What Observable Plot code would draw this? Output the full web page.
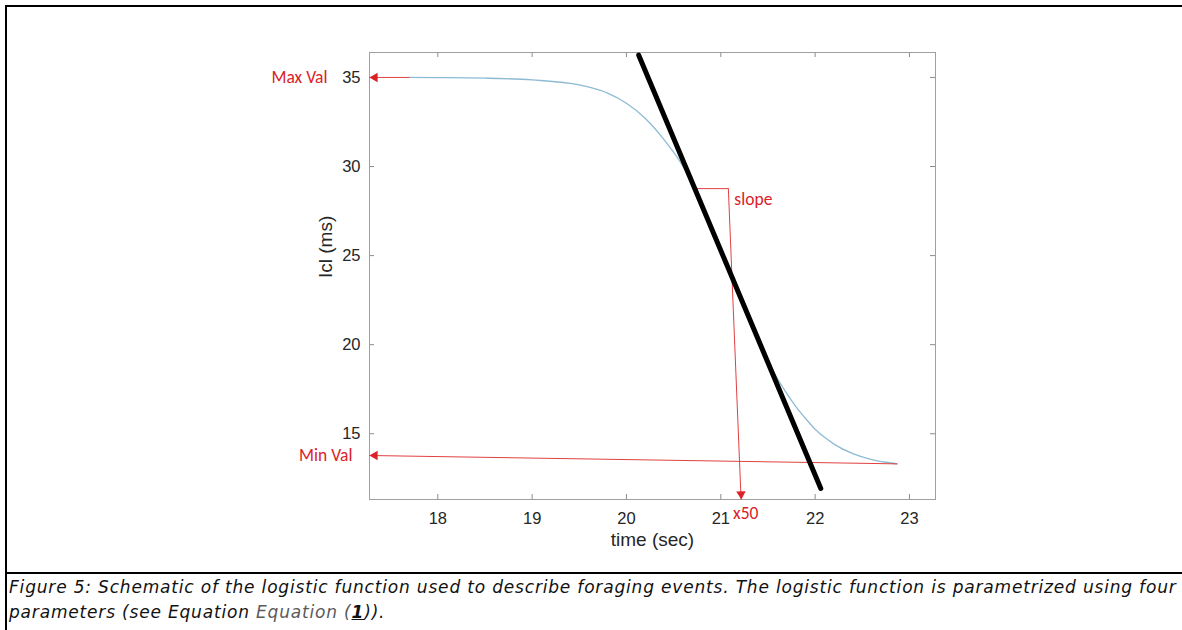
<!DOCTYPE html>
<html><head><meta charset="utf-8">
<script src="https://cdn.jsdelivr.net/npm/d3@7"></script>
<script src="https://cdn.jsdelivr.net/npm/@observablehq/plot@0.6"></script>
<style>
html,body{margin:0;padding:0;background:#fff;width:1182px;height:630px;overflow:hidden;position:relative;}
#chart{position:absolute;left:0;top:0;}
.bl{position:absolute;background:#000;}
#caption{position:absolute;left:9px;top:575px;font-family:"DejaVu Sans",Verdana,sans-serif;font-style:italic;font-size:17px;letter-spacing:0.82px;line-height:25px;color:#111;white-space:nowrap}
#caption .eq{color:#5a5a5a;}
</style></head><body>
<div id="chart"></div>
<div class="bl" style="left:5px;top:5px;width:1177px;height:2px"></div>
<div class="bl" style="left:5px;top:5px;width:2px;height:625px"></div>
<div class="bl" style="left:5px;top:572px;width:1177px;height:2px"></div>
<div id="caption">Figure 5: Schematic of the logistic function used to describe foraging events. The logistic function is parametrized using four<br>parameters (see Equation <span class="eq">Equation (</span><b><u>1</u></b>)).</div>
<script>
// ---- data ----
const xTicks = [18, 19, 20, 21, 22, 23];
const yTicks = [15, 20, 25, 30, 35];
const xDomain = [17.276, 23.276];
const yDomain = [11.31, 36.40];

// logistic curve
const curveTime = [17.7, 18.0, 18.5, 19.0, 19.5, 19.8, 20.0, 20.2, 20.4, 20.6, 20.8, 21.0, 21.2, 21.4, 21.5, 21.6, 21.7, 21.8, 21.9, 22.0, 22.1, 22.2, 22.4, 22.6, 22.75, 22.87];
const curveIcl  = [35.0, 34.99, 34.96, 34.86, 34.58, 34.12, 33.55, 32.7, 31.5, 30.0, 27.8, 25.3, 22.8, 20.3, 19.1, 18.1, 17.25, 16.5, 15.85, 15.25, 14.8, 14.42, 13.88, 13.55, 13.4, 13.31];

// tangent (slope) line
const slopeTime = [20.13, 22.06];
const slopeIcl  = [36.25, 11.93];

// annotation arrows: Max Val, Min Val, x50
const arrowFromX = [17.70, 22.87, 21.08];
const arrowFromY = [35.0, 13.31, 28.76];
const arrowToX   = [17.276, 17.276, 21.215];
const arrowToY   = [35.0, 13.78, 11.31];
// slope bracket horizontal segment
const bracketX = [20.72, 21.08];
const bracketY = [28.76, 28.76];

const labelMax = "Max Val", labelMin = "Min Val", labelSlope = "slope", labelX50 = "x50";
const xLabel = "time (sec)", yLabel = "Icl (ms)";

const W = 1182, H = 572, mT = 52, mB = 73, mL = 369, mR = 247;
const innerH = H - mT - mB, innerW = W - mL - mR;
const red = "#dc2128", redLine = "#e04040";
const gray = "#8c8c8c", ink = "#262626";
const labFont = "Carlito, Lato, 'Open Sans', sans-serif";

const curve = curveTime.map((t, i) => ({t, v: curveIcl[i]}));
const slope = slopeTime.map((t, i) => ({t, v: slopeIcl[i]}));
const arrows = arrowFromX.map((x1, i) => ({x1, y1: arrowFromY[i], x2: arrowToX[i], y2: arrowToY[i]}));

const plot = Plot.plot({
  width: W, height: H,
  marginTop: mT, marginBottom: mB, marginLeft: mL, marginRight: mR,
  style: {background: "transparent", fontFamily: "'Liberation Sans', Arial, sans-serif", fontSize: "16px", color: ink, overflow: "visible"},
  x: {domain: xDomain},
  y: {domain: yDomain},
  marks: [
    // inward ticks
    Plot.gridX(xTicks, {stroke: gray, strokeOpacity: 1, insetTop: innerH - 5}),
    Plot.gridX(xTicks, {stroke: gray, strokeOpacity: 1, insetBottom: innerH - 5}),
    Plot.gridY(yTicks, {stroke: gray, strokeOpacity: 1, insetRight: innerW - 5}),
    Plot.gridY(yTicks, {stroke: gray, strokeOpacity: 1, insetLeft: innerW - 5}),
    Plot.frame({stroke: "#a0a0a0"}),
    Plot.axisX({ticks: xTicks, tickFormat: d => String(d), tickSize: 0, tickPadding: 13, label: null, fontSize: 16.5, fill: ink}),
    Plot.axisY({ticks: yTicks, tickFormat: d => String(d), tickSize: 0, tickPadding: 9, label: null, fontSize: 16.5, fill: ink}),
    Plot.text([xLabel], {text: d => d, frameAnchor: "bottom", dy: 46, fontSize: 19, fill: ink}),
    Plot.text([yLabel], {text: d => d, frameAnchor: "left", dx: -44, dy: 2, rotate: -90, fontSize: 19, fill: ink}),
    // curve
    Plot.line(curve, {x: "t", y: "v", stroke: "#8dbbd3", strokeWidth: 1.3, curve: "monotone-x"}),
    // red annotations
    Plot.link(arrows, {x1: "x1", y1: "y1", x2: "x2", y2: "y2", stroke: redLine, strokeWidth: 1}),
    Plot.line(bracketX.map((x, i) => ({x, y: bracketY[i]})), {x: "x", y: "y", stroke: redLine, strokeWidth: 1}),
    Plot.dot(arrows.slice(0, 2), {x: "x2", y: "y2", symbol: "triangle2", r: 4.5, fill: red, stroke: "none", rotate: -90, dx: 5.4}),
    Plot.dot(arrows.slice(2), {x: "x2", y: "y2", symbol: "triangle2", r: 4.5, fill: red, stroke: "none", rotate: 177.6, dy: -5.4}),
    // slope line
    Plot.line(slope, {x: "t", y: "v", stroke: "#000", strokeWidth: 5}),
    Plot.text([labelMax], {x: () => arrowToX[0], y: () => arrowToY[0], text: d => d, textAnchor: "end", dx: -42, fill: red, fontSize: 17.5, fontFamily: labFont}),
    Plot.text([labelMin], {x: () => arrowToX[1], y: () => arrowToY[1], text: d => d, textAnchor: "end", dx: -17, fill: red, fontSize: 17.5, fontFamily: labFont}),
    Plot.text([labelSlope], {x: () => bracketX[1], y: () => bracketY[1], text: d => d, textAnchor: "start", dx: 6, dy: 11, fill: red, fontSize: 17.5, fontFamily: labFont}),
    Plot.text([labelX50], {x: () => arrowToX[2], y: () => arrowToY[2], text: d => d, textAnchor: "start", dx: -8, dy: 14, fill: red, fontSize: 17.5, fontFamily: labFont})
  ]
});
document.getElementById("chart").appendChild(plot);
</script>
</body></html>
